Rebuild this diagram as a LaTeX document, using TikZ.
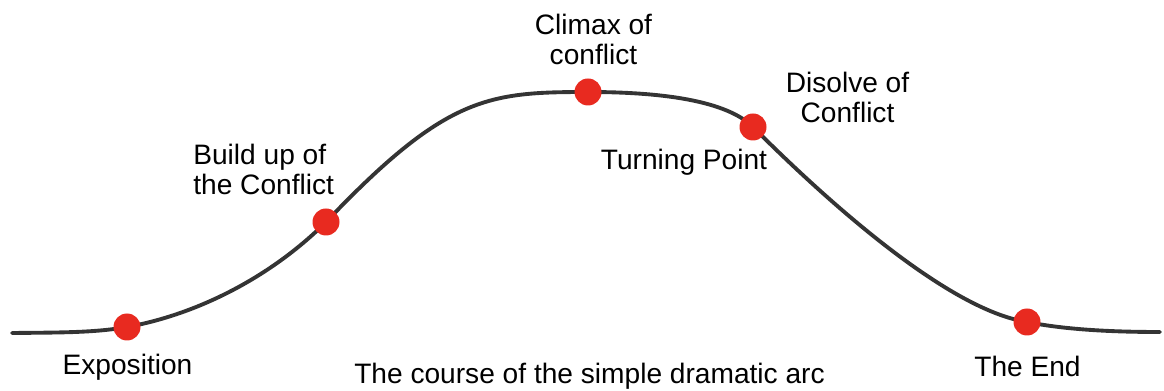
\documentclass[tikz,border=0pt]{standalone}
\usepackage{fontspec}
\setmainfont{Liberation Sans}
\definecolor{beatred}{RGB}{232,42,32}
\definecolor{arcgray}{RGB}{52,52,52}
\begin{document}
\begin{tikzpicture}[
  storyline/.style={line width=2.2pt, arcgray, line cap=round},
  beat/.style={circle, fill=beatred, inner sep=0pt, minimum size=0.54cm},
  beatlabel/.style={font=\fontsize{16}{17.5}\selectfont, inner sep=0pt, align=center}
]
  \useasboundingbox (0,0) rectangle (23.28,7.82);

  % The marked beats of the arc
  \coordinate (start) at (0.24,1.16);
  \coordinate (expo) at (2.54,1.28);
  \coordinate (build) at (6.52,3.38);
  \coordinate (climax) at (11.76,5.98);
  \coordinate (turn) at (15.06,5.28);
  \coordinate (theend) at (20.54,1.38);
  \coordinate (stop) at (23.20,1.18);

  % The arc itself: slow rise, long plateau, fall back down
  \draw[storyline] (start)
    .. controls (1.20,1.17) and (1.90,1.165) .. (expo)
    .. controls (3.94,1.53) and (5.42,2.28) .. (build)
    .. controls (8.92,5.90) and (9.76,5.98) .. (climax)
    .. controls (12.90,5.98) and (14.46,5.88) .. (turn)
    .. controls (16.66,3.68) and (19.00,1.62) .. (theend)
    .. controls (21.34,1.22) and (22.30,1.18) .. (stop);

  % Dots on top of the line
  \node[beat] (expodot) at (expo) {};
  \node[beat] (builddot) at (build) {};
  \node[beat] (climaxdot) at (climax) {};
  \node[beat] (turndot) at (turn) {};
  \node[beat] (enddot) at (theend) {};

  % Labels (base anchor of a two-line label sits on its last line)
  \node[beatlabel, anchor=base] (expolabel) at (2.55,0.32) {Exposition};
  \node[beatlabel, anchor=base west, align=left] (buildlabel) at (3.86,3.92) {Build up of\\the Conflict};
  \node[beatlabel, anchor=base] (climaxlabel) at (11.87,6.52) {Climax of\\conflict};
  \node[beatlabel, anchor=base] (dissolvelabel) at (16.95,5.36) {Disolve of\\Conflict};
  \node[beatlabel, anchor=base] (turnlabel) at (13.68,4.42) {Turning Point};
  \node[beatlabel, anchor=base] (endlabel) at (20.55,0.28) {The End};
  \node[beatlabel, anchor=base] (caption) at (11.79,0.14) {The course of the simple dramatic arc};

\end{tikzpicture}
\end{document}
